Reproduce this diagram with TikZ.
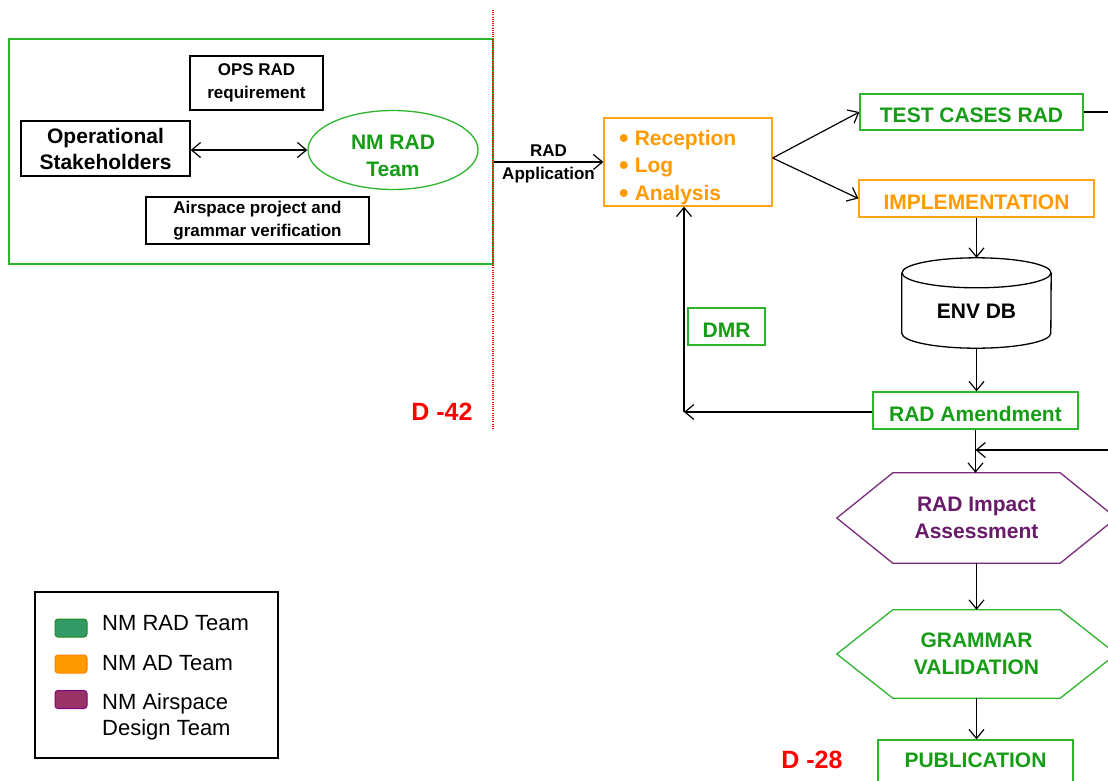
\documentclass[tikz,border=0pt]{standalone}
\usepackage{fontspec}
\setmainfont{Liberation Sans}
\usetikzlibrary{arrows.meta,shapes.geometric}
\definecolor{boxgreen}{HTML}{2DB52D}
\definecolor{txtgreen}{HTML}{169C16}
\definecolor{boxorange}{HTML}{FFA31A}
\definecolor{txtorange}{HTML}{FF9A00}
\definecolor{boxpurple}{HTML}{7A2A7A}
\definecolor{txtpurple}{HTML}{6A1A6A}
\definecolor{swgreen}{HTML}{339966}
\definecolor{swgreenb}{HTML}{1E8C1E}
\definecolor{sworange}{HTML}{FF9900}
\definecolor{sworangeb}{HTML}{FF8000}
\definecolor{swpurple}{HTML}{993366}
\definecolor{swpurpleb}{HTML}{800080}
\newcommand{\bigbul}{\raisebox{-2pt}{\scalebox{1.3}{\textbullet}}\hspace{6pt}}
\tikzset{
  big/.style={font=\bfseries\fontsize{21}{27}\selectfont},
  small/.style={font=\bfseries\fontsize{17}{22.5}\selectfont},
  blackbox/.style={draw=black, line width=1.3pt, inner sep=0pt, align=center},
  lowtext/.style={text height=21pt, text depth=0pt},
  greenbox/.style={draw=boxgreen, line width=1.3pt, text=txtgreen, inner sep=0pt, align=center, big},
  orangebox/.style={draw=boxorange, line width=1.3pt, text=txtorange, inner sep=0pt, align=center, big},
  conn/.style={draw=black, line width=1.2pt, -{Straight Barb[length=9pt,width=15pt]}},
  dlabel/.style={text=red, font=\bfseries\fontsize{25}{30}\selectfont},
  swatch/.style={rounded corners=3pt, line width=1pt, minimum width=32pt, minimum height=18pt, inner sep=0pt},
  legtext/.style={font=\fontsize{22}{26}\selectfont, align=left, anchor=west, inner sep=0pt},
}
\begin{document}
\begin{tikzpicture}[x=1pt,y=-1pt]
\useasboundingbox (0,0) rectangle (1108,780);
\clip (0,0) rectangle (1108,780);
\fill[white] (0,0) rectangle (1108,780);

% left group
\node[draw=boxgreen, line width=1.3pt, minimum width=484pt, minimum height=225pt, inner sep=0pt] (grp) at (251,151.5) {};
\draw[red, line width=1.2pt, dash pattern=on 1pt off 1.2pt] (493,10) coordinate (dtop) -- (493,430) coordinate (dbot);
\node[blackbox, small, minimum width=133pt, minimum height=54pt] (ops) at (256.5,83) {OPS RAD\\requirement};
\node[blackbox, minimum width=169pt, minimum height=55pt, font=\bfseries\fontsize{21}{26}\selectfont] (opst) at (105.5,148.5) {Operational\\Stakeholders};
\node[draw=boxgreen, line width=1.3pt, ellipse, minimum width=170pt, minimum height=79pt, inner sep=0pt] (nmrad) at (393,150) {};
\node[text=txtgreen, align=center, inner sep=0pt, font=\bfseries\fontsize{21}{27}\selectfont] (nmradtxt) at (393,155.5) {NM RAD\\Team};
\node[blackbox, small, minimum width=223pt, minimum height=47pt] (air) at (257.5,220.5) {Airspace project and\\grammar verification};
\draw[conn, {Straight Barb[length=9pt,width=15pt]}-{Straight Barb[length=9pt,width=15pt]}] (opst.east |- nmrad.west) -- (nmrad.west);
\node[dlabel] (d42) at (442,412) {D -42};

% reception box
\node[draw=boxorange, line width=1.3pt, minimum width=168pt, minimum height=88pt, inner sep=0pt] (recv) at (688,162) {};
\node[text=txtorange, anchor=west, align=left, inner sep=0pt, font=\bfseries\fontsize{21}{27.5}\selectfont] (recvtxt) at (619,167.5) {\bigbul Reception\\\bigbul Log\\\bigbul Analysis};
\draw[conn] (grp.east |- recv.west) -- node[small, align=center, text=black, yshift=-2pt] (radapp) {RAD\\Application} (recv.west);

% right column
\node[greenbox, lowtext, minimum width=223pt, minimum height=36pt] (test) at (971.5,112) {TEST CASES RAD};
\node[orangebox, lowtext, minimum width=235pt, minimum height=37pt] (impl) at (976.5,198.5) {IMPLEMENTATION};
\draw[conn] ([yshift=4pt]recv.east) -- (test.west);
\draw[conn] ([yshift=4pt]recv.east) -- (impl.west);
\coordinate (rt1) at (1110,112);
\draw[line width=1.2pt] (test.east) -- (rt1);

% cylinder
\node[big, minimum width=149pt, minimum height=90pt, inner sep=0pt, text height=31pt, text depth=0pt] (envdb) at (976.5,303) {ENV DB};
\draw[line width=1.3pt] ([yshift=-15pt]envdb.north west) -- ([yshift=15pt]envdb.south west)
  arc[start angle=180, end angle=360, x radius=74.5pt, y radius=15pt] -- ([yshift=-15pt]envdb.north east);
\draw[line width=1.3pt] ([yshift=-15pt]envdb.north) ellipse [x radius=74.5pt, y radius=15pt];
\draw[conn] (impl.south -| envdb.north) -- (envdb.north);

\node[greenbox, lowtext, minimum width=205pt, minimum height=37pt] (ramend) at (975.5,410.5) {RAD Amendment};
\draw[conn] (envdb.south) -- (envdb.south |- ramend.north);

\coordinate (c1) at (684,412);
\draw[conn] (ramend.west |- c1) -- (c1);
\draw[conn] (c1) -- (c1 |- recv.south);
\node[greenbox, lowtext, minimum width=77pt, minimum height=37pt] (dmr) at (726.5,326.5) {DMR};

% hexagons
\node[text=txtpurple, big, align=center, minimum width=167pt, minimum height=90pt, inner sep=0pt] (rai) at (976.5,518) {RAD Impact\\Assessment};
\draw[boxpurple, line width=1.3pt] (rai.north west) -- (rai.north east) -- ([xshift=56pt]rai.east) -- (rai.south east) -- (rai.south west) -- ([xshift=-56pt]rai.west) -- cycle;
\draw[conn] (ramend.south) -- (ramend.south |- rai.north);
\coordinate (rt2) at (1110,450);
\draw[conn] (rt2) -- (ramend.south |- rt2);

\node[text=txtgreen, big, align=center, minimum width=167pt, minimum height=88pt, inner sep=0pt] (gv) at (976.5,654) {GRAMMAR\\VALIDATION};
\draw[boxgreen, line width=1.3pt] (gv.north west) -- (gv.north east) -- ([xshift=56pt]gv.east) -- (gv.south east) -- (gv.south west) -- ([xshift=-56pt]gv.west) -- cycle;
\draw[conn] (rai.south) -- (gv.north);

\node[greenbox, minimum width=195pt, minimum height=44pt, text height=11pt, text depth=0pt] (pub) at (975.5,762) {PUBLICATION};
\draw[conn] (gv.south) -- (gv.south |- pub.north);
\node[dlabel] (d28) at (812,760) {D -28};

% legend
\node[draw=black, line width=1.3pt, minimum width=243pt, minimum height=166pt, inner sep=0pt] (legend) at (156.5,675) {};
\node[swatch, fill=swgreen, draw=swgreenb] (sw1) at (71,628) {};
\node[swatch, fill=sworange, draw=sworangeb] (sw2) at (71,664) {};
\node[swatch, fill=swpurple, draw=swpurpleb] (sw3) at (71,699.5) {};
\node[legtext] (l1) at (102,623) {NM RAD Team};
\node[legtext] (l2) at (102,663) {NM AD Team};
\node[legtext] (l3) at (102,717) {NM Airspace\\Design Team};
\end{tikzpicture}
\end{document}
